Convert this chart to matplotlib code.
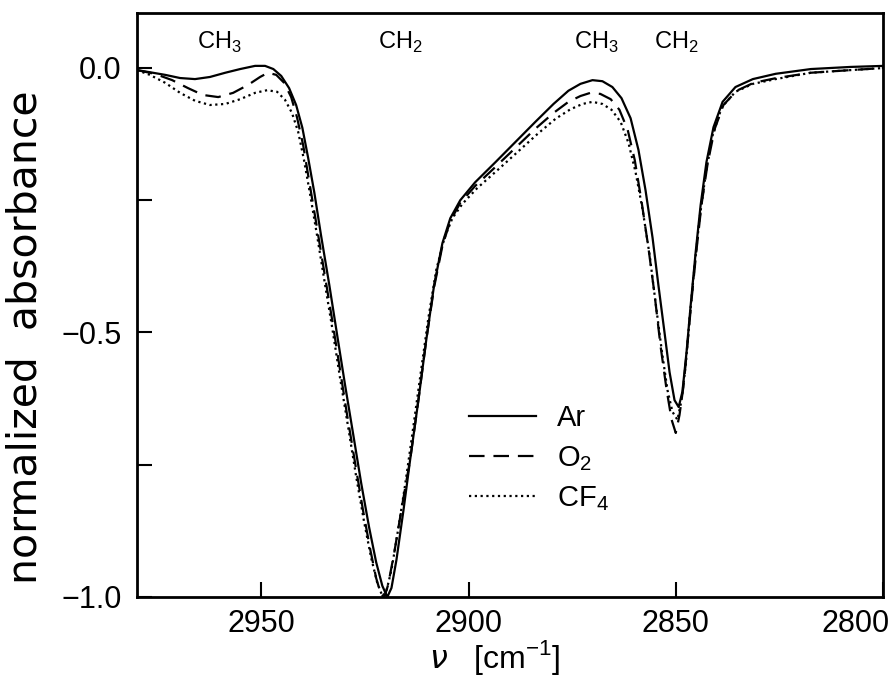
import matplotlib
matplotlib.use("Agg")
import matplotlib.pyplot as plt
from matplotlib.transforms import ScaledTranslation

plt.rcParams['font.family'] = ['Liberation Sans', 'DejaVu Sans']
plt.rcParams['mathtext.fontset'] = 'custom'
plt.rcParams['mathtext.rm'] = 'Liberation Sans'
plt.rcParams['mathtext.it'] = 'DejaVu Sans:italic'

# normalized CH stretch absorbance, wavenumber in cm^-1
wn_ar = [2980.0, 2976.9, 2973.2, 2969.6, 2966.0, 2962.4, 2958.7, 2955.1, 2951.5, 2949.1,
         2947.1, 2945.2, 2943.3, 2941.6, 2940.1, 2938.7, 2937.2, 2935.6, 2933.6, 2931.7,
         2929.8, 2927.8, 2925.9, 2924.0, 2922.3, 2920.8, 2919.6, 2918.6, 2917.4, 2915.7,
         2914.1, 2912.1, 2910.2, 2908.3, 2906.3, 2904.4, 2902.0, 2898.4, 2893.5, 2888.7,
         2883.9, 2879.5, 2875.9, 2873.0, 2870.1, 2867.7, 2865.3, 2863.1, 2860.9, 2859.0,
         2857.3, 2855.6, 2854.2, 2852.7, 2851.5, 2850.3, 2849.3, 2848.4, 2847.4, 2846.4,
         2845.2, 2844.0, 2842.6, 2840.9, 2838.7, 2835.6, 2831.4, 2825.9, 2817.4, 2807.8,
         2799.8]
ab_ar = [-0.004, -0.008, -0.013, -0.019, -0.021, -0.017, -0.009, -0.002, 0.004, 0.004,
         -0.002, -0.015, -0.038, -0.070, -0.113, -0.170, -0.236, -0.316, -0.410, -0.505,
         -0.599, -0.694, -0.785, -0.868, -0.934, -0.979, -1.000, -0.983, -0.930, -0.836,
         -0.741, -0.628, -0.514, -0.410, -0.331, -0.284, -0.250, -0.216, -0.178, -0.140,
         -0.102, -0.068, -0.043, -0.030, -0.023, -0.025, -0.036, -0.057, -0.095, -0.155,
         -0.231, -0.321, -0.410, -0.501, -0.575, -0.628, -0.641, -0.612, -0.537, -0.448,
         -0.348, -0.259, -0.178, -0.112, -0.064, -0.036, -0.021, -0.011, -0.002, 0.002,
         0.004]

wn_o2 = [2980.0, 2975.7, 2971.5, 2967.7, 2964.1, 2960.4, 2956.8, 2953.2, 2950.3, 2948.4,
         2946.4, 2944.5, 2942.8, 2941.4, 2939.9, 2938.5, 2936.8, 2935.1, 2933.1, 2931.2,
         2929.3, 2927.3, 2925.4, 2923.7, 2922.3, 2921.1, 2920.3, 2919.4, 2917.9, 2916.0,
         2914.1, 2912.1, 2910.2, 2908.3, 2906.3, 2904.4, 2902.0, 2898.4, 2893.5, 2888.7,
         2883.9, 2879.5, 2875.9, 2873.0, 2870.6, 2868.2, 2865.7, 2863.6, 2861.6, 2859.9,
         2858.3, 2856.6, 2855.1, 2853.7, 2852.2, 2851.0, 2850.0, 2849.1, 2848.1, 2847.2,
         2846.2, 2845.0, 2843.8, 2842.3, 2840.6, 2838.5, 2835.3, 2831.2, 2825.7, 2817.4,
         2807.8, 2799.8]
ab_o2 = [-0.004, -0.011, -0.023, -0.038, -0.051, -0.055, -0.047, -0.032, -0.017, -0.009,
         -0.013, -0.028, -0.055, -0.093, -0.146, -0.212, -0.291, -0.372, -0.467, -0.561,
         -0.656, -0.750, -0.839, -0.911, -0.964, -0.996, -1.000, -0.977, -0.915, -0.826,
         -0.741, -0.628, -0.514, -0.414, -0.336, -0.289, -0.255, -0.223, -0.187, -0.151,
         -0.115, -0.085, -0.064, -0.053, -0.047, -0.049, -0.059, -0.079, -0.117, -0.174,
         -0.250, -0.340, -0.429, -0.524, -0.609, -0.665, -0.690, -0.656, -0.599, -0.524,
         -0.439, -0.344, -0.259, -0.180, -0.115, -0.070, -0.043, -0.028, -0.019, -0.009,
         -0.004, 0.000]

wn_cf4 = [2980.0, 2976.9, 2973.2, 2969.6, 2966.0, 2962.4, 2958.7, 2955.1, 2951.5, 2948.6,
          2946.2, 2944.3, 2942.6, 2941.1, 2939.7, 2938.2, 2936.5, 2934.8, 2932.9, 2931.0,
          2929.0, 2927.1, 2925.2, 2923.5, 2922.0, 2920.8, 2919.9, 2918.6, 2917.0, 2915.3,
          2913.6, 2911.6, 2909.7, 2907.8, 2905.8, 2903.9, 2901.5, 2897.9, 2893.0, 2888.2,
          2883.4, 2879.0, 2875.4, 2872.5, 2870.1, 2867.7, 2865.5, 2863.3, 2861.4, 2859.7,
          2858.0, 2856.3, 2854.9, 2853.4, 2852.0, 2850.8, 2849.6, 2848.6, 2847.6, 2846.7,
          2845.5, 2844.3, 2842.8, 2841.1, 2838.9, 2835.6, 2831.4, 2825.9, 2817.4, 2807.8,
          2799.8]
ab_cf4 = [-0.004, -0.013, -0.028, -0.047, -0.062, -0.070, -0.068, -0.059, -0.047, -0.042,
          -0.045, -0.060, -0.085, -0.121, -0.174, -0.240, -0.319, -0.401, -0.491, -0.586,
          -0.681, -0.773, -0.858, -0.926, -0.974, -0.998, -0.991, -0.949, -0.873, -0.788,
          -0.694, -0.580, -0.473, -0.382, -0.321, -0.284, -0.257, -0.227, -0.193, -0.159,
          -0.125, -0.096, -0.078, -0.068, -0.064, -0.068, -0.079, -0.102, -0.142, -0.197,
          -0.268, -0.354, -0.442, -0.533, -0.609, -0.650, -0.665, -0.628, -0.561, -0.476,
          -0.378, -0.287, -0.202, -0.127, -0.074, -0.045, -0.030, -0.021, -0.009, -0.004,
          0.000]

band_labels = ['CH$_3$', 'CH$_2$', 'CH$_3$', 'CH$_2$']
band_pos = [2960.0, 2916.5, 2869.1, 2849.8]

fig = plt.figure(figsize=(8.93, 6.79), dpi=100)
ax = fig.add_axes([0.1534, 0.1208, 0.8354, 0.8601])

ax.plot(wn_ar, ab_ar, color='black', lw=1.6, label='Ar')
ax.plot(wn_o2, ab_o2, color='black', lw=1.6, dashes=(7, 4), label='O$_2$')
ax.plot(wn_cf4, ab_cf4, color='black', lw=1.6, dashes=(1, 1.6), label='CF$_4$')

for lab, x in zip(band_labels, band_pos):
    ax.text(x, 0.036, lab, ha='center', va='baseline', fontsize=17)

ax.set_xlim(2980, 2800)
ax.set_ylim(-1.0, 0.104)
ax.set_xticks([2950, 2900, 2850, 2800])
ax.set_yticks([-1.0, -0.5, 0.0])
ax.set_yticks([-0.75, -0.25], minor=True)
ax.set_yticklabels(['\u22121.0', '\u22120.5', '0.0'])
ax.tick_params(which='both', direction='in', length=11, width=1.5,
               top=False, right=False, labelsize=22, pad=11)
ax.tick_params(axis='x', pad=9)

# keep the last x label inside the frame
lab = ax.get_xticklabels()[-1]
lab.set_horizontalalignment('right')
lab.set_transform(lab.get_transform() + ScaledTranslation(0.07, 0, fig.dpi_scale_trans))

for s in ax.spines.values():
    s.set_linewidth(2.0)

ax.set_xlabel('$\\nu$   [cm$^{-1}$]', fontsize=23)
ax.set_ylabel('normalized  absorbance', fontsize=29.5, family='DejaVu Sans')
ax.yaxis.set_label_coords(-0.122, 0.445)
ax.xaxis.set_label_coords(0.479, -0.070)

ax.legend(loc='upper left', bbox_to_anchor=(0.41, 0.375), frameon=False, fontsize=21,
          handlelength=2.3, handletextpad=0.7, labelspacing=0.4)

fig.savefig('out.png', dpi=100)
